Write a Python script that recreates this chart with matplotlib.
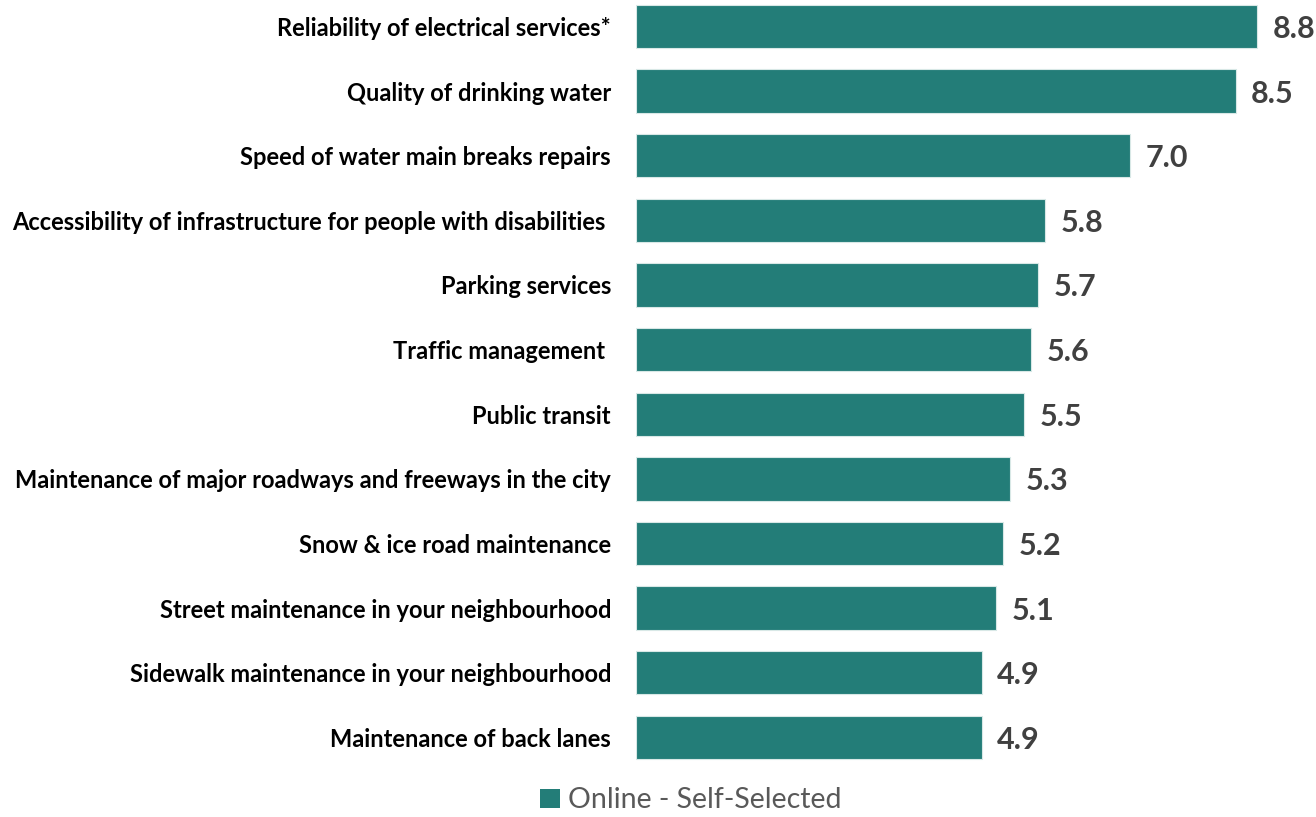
import matplotlib
matplotlib.use('Agg')
import matplotlib.pyplot as plt
from matplotlib.patches import Patch

plt.rcParams['font.family'] = ['Lato', 'DejaVu Sans']

categories = [
    'Reliability of electrical services*',
    'Quality of drinking water',
    'Speed of water main breaks repairs',
    'Accessibility of infrastructure for people with disabilities ',
    'Parking services',
    'Traffic management ',
    'Public transit',
    'Maintenance of major roadways and freeways in the city',
    'Snow & ice road maintenance',
    'Street maintenance in your neighbourhood',
    'Sidewalk maintenance in your neighbourhood',
    'Maintenance of back lanes',
]
values = [8.8, 8.5, 7.0, 5.8, 5.7, 5.6, 5.5, 5.3, 5.2, 5.1, 4.9, 4.9]
series_name = 'Online - Self-Selected'

BAR_COLOR = '#237D78'

fig = plt.figure(figsize=(13.16, 8.17), dpi=100)
ax = fig.add_axes([636 / 1316, 1 - 780 / 817, (1310 - 636) / 1316, 780 / 817])

pos = list(range(len(categories)))
ax.barh(pos, values, height=0.67, color=BAR_COLOR, edgecolor='#d8e8e6', linewidth=0.8)

ax.set_xlim(0, (1310 - 636) / 70.57)
ax.set_ylim(11.66, -0.41)

# value labels
for y, v in zip(pos, values):
    ax.annotate(f'{v:.1f}', (v, y), xytext=(11, 0), textcoords='offset points',
                ha='left', va='center_baseline', fontsize=22, fontweight='bold', color='#404040')

ax.set_yticks(pos)
ax.set_yticklabels(categories, fontsize=17, fontweight='bold', color='black')
ax.tick_params(axis='y', length=0, pad=18)
ax.set_xticks([])
for s in ax.spines.values():
    s.set_visible(False)

handle = Patch(facecolor=BAR_COLOR, edgecolor='none')
fig.legend([handle], [series_name], loc='lower center', bbox_to_anchor=(691 / 1316, -0.027),
           frameon=False, fontsize=20.5, handlelength=0.7, handleheight=0.7, handletextpad=0.3,
           labelcolor='#595959')

fig.savefig('out.png', dpi=100)
